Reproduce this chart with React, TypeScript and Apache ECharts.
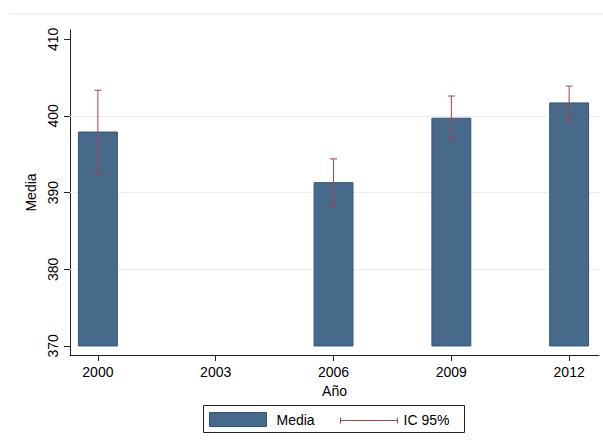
import React, { useEffect, useRef } from "react";
import * as echarts from "echarts";

const years = [2000, 2003, 2006, 2009, 2012];
const means: (number | null)[] = [397.9, null, 391.3, 399.7, 401.7];
const lowerCI: (number | null)[] = [392.3, null, 388.2, 396.9, 399.5];
const upperCI: (number | null)[] = [403.35, null, 394.4, 402.6, 403.9];
const yTicks = [370, 380, 390, 400, 410];
const gridValues = [380, 390, 400];
const baseline = 370;

const FONT = "'Liberation Sans', Arial, sans-serif";
const BAR_FILL = "#476a8b";
const BAR_STROKE = "#2a5580";
const CI_COLOR = "#a5424c";
const AXIS_COLOR = "#222";

export default function App() {
  const ref = useRef<HTMLDivElement>(null);
  useEffect(() => {
    if (!ref.current) return;
    const chart = echarts.init(ref.current, null, { renderer: "svg" });

    const barData = years
      .map((y, i) => [y, means[i]])
      .filter((d) => d[1] !== null);
    const ciData = years
      .map((y, i) => [y, lowerCI[i], upperCI[i]])
      .filter((d) => d[1] !== null);

    chart.setOption({
      animation: false,
      backgroundColor: "#fff",
      textStyle: { fontFamily: FONT },
      grid: { left: 70, right: 4, top: 30, bottom: 91 },
      xAxis: {
        type: "value",
        min: 1999.29,
        max: 2012.76,
        name: "Año",
        nameLocation: "middle",
        nameGap: 23,
        nameTextStyle: { fontSize: 14, color: "#000", fontFamily: FONT },
        axisLine: { show: true, lineStyle: { color: AXIS_COLOR, width: 1 } },
        axisTick: {
          show: true,
          length: 6,
          customValues: years,
          lineStyle: { color: AXIS_COLOR },
        },
        axisLabel: {
          customValues: years,
          fontSize: 14,
          color: "#000",
          margin: 10,
          fontFamily: FONT,
          formatter: (v: number) => String(v),
        },
        splitLine: { show: false },
      },
      yAxis: {
        type: "value",
        min: 368.82,
        max: 411.21,
        name: "Media",
        nameLocation: "middle",
        nameGap: 28,
        nameTextStyle: { fontSize: 14, color: "#000", fontFamily: FONT },
        axisLine: { show: true, lineStyle: { color: AXIS_COLOR, width: 1 } },
        axisTick: {
          show: true,
          length: 6,
          customValues: yTicks,
          lineStyle: { color: AXIS_COLOR },
        },
        axisLabel: {
          customValues: yTicks,
          rotate: 90,
          fontSize: 14,
          color: "#000",
          margin: 10,
          fontFamily: FONT,
        },
        splitLine: { show: false },
      },
      graphic: [
        {
          type: "line",
          shape: { x1: 9, y1: 14, x2: 603, y2: 14 },
          style: { stroke: "#e6e8e8", lineWidth: 1 },
          silent: true,
        },
        {
          type: "group",
          left: 203,
          top: 405,
          children: [
            {
              type: "rect",
              shape: { x: 0, y: 0, width: 261, height: 27 },
              style: { fill: "#fff", stroke: "#222", lineWidth: 1 },
            },
            {
              type: "rect",
              shape: { x: 6, y: 7, width: 57, height: 14 },
              style: { fill: BAR_FILL, stroke: BAR_STROKE, lineWidth: 1 },
            },
            {
              type: "text",
              x: 73,
              y: 14,
              style: {
                text: "Media",
                fontSize: 14,
                fill: "#000",
                fontFamily: FONT,
                textVerticalAlign: "middle",
              },
            },
            {
              type: "line",
              shape: { x1: 137, y1: 15, x2: 194, y2: 15 },
              style: { stroke: CI_COLOR, lineWidth: 1 },
            },
            {
              type: "line",
              shape: { x1: 137, y1: 12, x2: 137, y2: 18 },
              style: { stroke: CI_COLOR, lineWidth: 1 },
            },
            {
              type: "line",
              shape: { x1: 194, y1: 12, x2: 194, y2: 18 },
              style: { stroke: CI_COLOR, lineWidth: 1 },
            },
            {
              type: "text",
              x: 200,
              y: 14,
              style: {
                text: "IC 95%",
                fontSize: 14,
                fill: "#000",
                fontFamily: FONT,
                textVerticalAlign: "middle",
              },
            },
          ],
        },
      ],
      series: [
        {
          type: "line",
          data: [],
          silent: true,
          z: 1,
          markLine: {
            silent: true,
            z: 1,
            symbol: "none",
            label: { show: false },
            lineStyle: { color: "#e9efef", width: 1, type: "solid" },
            data: gridValues.map((v) => ({ yAxis: v })),
          },
        },
        {
          type: "custom",
          name: "Media",
          z: 10,
          data: barData,
          renderItem: (params: any, api: any) => {
            const x = api.value(0);
            const v = api.value(1);
            const top = api.coord([x, v]);
            const bot = api.coord([x, baseline]);
            const w = api.size([0.99, 0])[0];
            return {
              type: "rect",
              shape: { x: top[0] - w / 2, y: top[1], width: w, height: bot[1] - top[1] },
              style: { fill: BAR_FILL, stroke: BAR_STROKE, lineWidth: 1 },
            };
          },
        },
        {
          type: "custom",
          name: "IC 95%",
          z: 11,
          data: ciData,
          renderItem: (params: any, api: any) => {
            const x = api.value(0);
            const lo = api.coord([x, api.value(1)]);
            const hi = api.coord([x, api.value(2)]);
            const c = 3.5;
            const style = { stroke: CI_COLOR, lineWidth: 1 };
            return {
              type: "group",
              children: [
                { type: "line", shape: { x1: lo[0], y1: lo[1], x2: hi[0], y2: hi[1] }, style },
                { type: "line", shape: { x1: hi[0] - c, y1: hi[1], x2: hi[0] + c, y2: hi[1] }, style },
                { type: "line", shape: { x1: lo[0] - c, y1: lo[1], x2: lo[0] + c, y2: lo[1] }, style },
              ],
            };
          },
        },
      ],
    });
    return () => chart.dispose();
  }, []);
  return <div ref={ref} style={{ width: 603, height: 446, position: "absolute", left: 0, top: 0 }} />;
}
